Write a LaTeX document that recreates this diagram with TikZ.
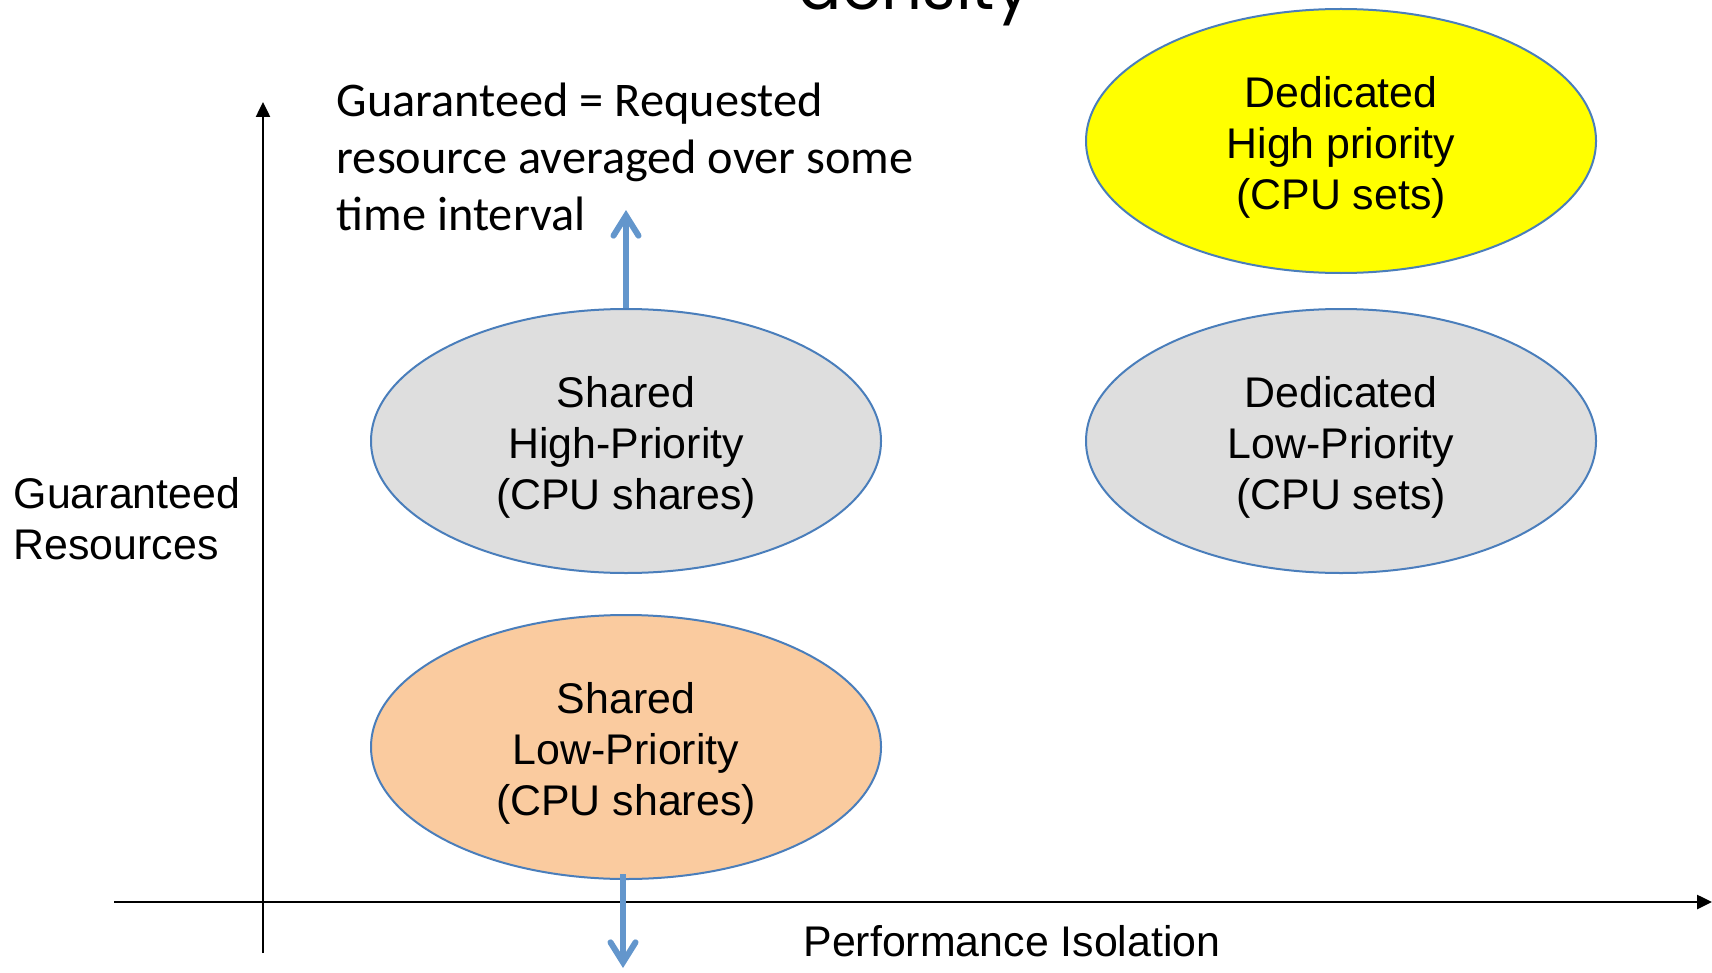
\documentclass[tikz,border=0pt]{standalone}
\usepackage{fontspec}
\setmainfont{Liberation Sans}
\newfontfamily\calfont{Carlito}
\newfontfamily\titlefont{Poppins}
\usetikzlibrary{shapes.geometric,arrows.meta}
\definecolor{ellgray}{HTML}{DEDEDE}
\definecolor{ellorange}{HTML}{FACB9F}
\definecolor{ellyellow}{HTML}{FFFF00}
\definecolor{ellborder}{HTML}{4A7EBB}
\definecolor{arrblue}{HTML}{6396CC}
\newcommand{\toppad}{\rule{0pt}{12.4pt}}
\tikzset{
  blob/.style={ellipse, draw=ellborder, line width=0.02cm, minimum width=5.1cm,
    minimum height=2.64cm, inner sep=0pt, align=center,
    font=\fontsize{12.2}{14.6}\selectfont},
  axisline/.style={line width=0.025cm, -{Triangle[length=0.15cm,width=0.14cm]}},
  bluearrow/.style={draw=arrblue, line width=0.06cm,
    -{Straight Barb[length=0.2cm,width=0.25cm,line cap=round]}},
  lbl/.style={inner sep=0pt, font=\fontsize{12.2}{14.4}\selectfont}
}
\begin{document}
\begin{tikzpicture}[x=1cm,y=1cm]
\useasboundingbox (0,0) rectangle (17.12,-9.73);
% title (cut off)
\node[anchor=base, inner sep=0pt, font=\titlefont\fontsize{18.2}{20}\selectfont] (title) at (9.15,-0.10) {density};
% axes
\coordinate (yb) at (2.63,-9.53);
\coordinate (yt) at (2.63,-1.02);
\coordinate (xl) at (1.14,-9.02);
\coordinate (xr) at (17.12,-9.02);
\draw[axisline] (yb) -- (yt);
\draw[axisline] (xl) -- (xr);
% ellipses
\node[blob, fill=ellyellow] (dhp) at (13.41,-1.41) {\toppad Dedicated\\High priority\\(CPU sets)};
\node[blob, fill=ellgray] (shp) at (6.26,-4.41) {\toppad Shared\\High-Priority\\(CPU shares)};
\node[blob, fill=ellgray] (dlp) at (13.41,-4.41) {\toppad Dedicated\\Low-Priority\\(CPU sets)};
\node[blob, fill=ellorange] (slp) at (6.26,-7.47) {\toppad Shared\\Low-Priority\\(CPU shares)};
% labels
\node[lbl, anchor=north west, align=left] (yl) at (0.13,-4.77) {Guaranteed\\Resources};
\node[lbl, anchor=base] (xlab) at (10.12,-9.56) {Performance Isolation};
\node[inner sep=0pt, anchor=north west, align=left, font=\calfont\fontsize{13.75}{16.2}\selectfont] (note) at (3.36,-0.82)
  {Guaranteed = Requested\\resource averaged over some\\time interval};
% blue arrows
\coordinate (upend) at (6.26,-2.10);
\coordinate (downend) at (6.23,-9.68);
\draw[bluearrow] (shp.north) -- (upend);
\draw[bluearrow] ([xshift=-0.03cm,yshift=0.06cm]slp.south) -- (downend);
\end{tikzpicture}
\end{document}
